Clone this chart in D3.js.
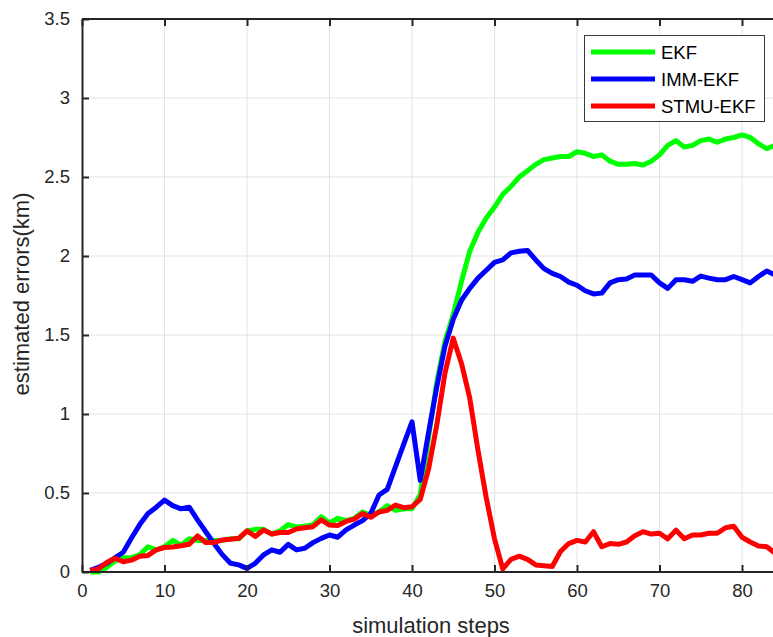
<!DOCTYPE html>
<html><head><meta charset="utf-8">
<script src="https://cdn.jsdelivr.net/npm/d3@7"></script>
<style>html,body{margin:0;padding:0;background:#fff;overflow:hidden}</style>
</head><body>
<svg id="c" width="773" height="637"></svg>
<script>
const steps = d3.range(1, 85);
const ekf = [0.00,0.00,0.03,0.07,0.09,0.09,0.11,0.16,0.14,0.16,0.20,0.17,0.21,0.20,0.20,0.20,0.20,0.21,0.21,0.26,
0.27,0.27,0.24,0.26,0.30,0.285,0.29,0.30,0.35,0.31,0.34,0.325,0.34,0.38,0.36,0.38,0.42,0.39,0.40,0.40,
0.49,0.85,1.20,1.46,1.63,1.84,2.03,2.15,2.24,2.31,2.39,2.44,2.50,2.54,2.58,2.61,2.62,2.63,2.63,2.66,
2.65,2.63,2.64,2.60,2.58,2.58,2.585,2.576,2.60,2.64,2.70,2.73,2.69,2.70,2.73,2.74,2.72,2.74,2.75,2.766,
2.75,2.71,2.68,2.70];
const imm = [0.01,0.03,0.055,0.09,0.125,0.215,0.30,0.37,0.41,0.455,0.42,0.40,0.41,0.33,0.255,0.18,0.11,0.055,0.045,0.023,
0.055,0.108,0.14,0.125,0.175,0.14,0.15,0.186,0.213,0.234,0.22,0.266,0.297,0.325,0.37,0.487,0.523,0.667,0.81,0.95,
0.58,0.88,1.17,1.43,1.60,1.72,1.795,1.86,1.91,1.96,1.975,2.02,2.03,2.035,1.975,1.92,1.89,1.87,1.835,1.815,
1.78,1.76,1.765,1.83,1.85,1.855,1.88,1.88,1.88,1.83,1.795,1.85,1.85,1.84,1.873,1.86,1.85,1.85,1.87,1.85,
1.83,1.87,1.905,1.88];
const stmu = [0.01,0.02,0.06,0.087,0.065,0.075,0.10,0.105,0.14,0.155,0.158,0.166,0.176,0.228,0.186,0.186,0.203,0.207,0.213,0.26,
0.225,0.266,0.24,0.25,0.25,0.272,0.28,0.287,0.33,0.297,0.294,0.32,0.335,0.37,0.346,0.38,0.39,0.424,0.407,0.413,
0.46,0.65,0.93,1.26,1.48,1.32,1.10,0.77,0.47,0.21,0.02,0.08,0.10,0.08,0.045,0.04,0.035,0.13,0.18,0.20,
0.19,0.255,0.16,0.18,0.175,0.19,0.23,0.255,0.24,0.245,0.21,0.265,0.21,0.234,0.234,0.245,0.245,0.28,0.29,0.22,
0.19,0.165,0.16,0.12];
const seriesNames = ["EKF","IMM-EKF","STMU-EKF"];
const seriesColors = ["#00ff00","#0000ff","#ff0000"];
const xTicks = [0,10,20,30,40,50,60,70,80];
const yTicks = [0,0.5,1,1.5,2,2.5,3,3.5];
const xLabel = "simulation steps";
const yLabel = "estimated errors(km)";

const svg = d3.select("#c");
const L = 82, T = 19, B = 572, R = 773;
const x = d3.scaleLinear().domain([0, 85]).range([L, L + 85*8.25]);
const y = d3.scaleLinear().domain([0, 3.5]).range([B, T]);
const font = "'Liberation Sans', Arial, sans-serif";
const axCol = "#262626";

svg.append("defs").append("clipPath").attr("id","clip")
  .append("rect").attr("x", L).attr("y", T - 10).attr("width", R - L).attr("height", B - T + 20);

// grid
const g = svg.append("g");
g.selectAll(".gx").data(xTicks.filter(d => d > 0)).join("line")
  .attr("x1", d => x(d)).attr("x2", d => x(d)).attr("y1", T).attr("y2", B)
  .attr("stroke", "#e3e3e3").attr("stroke-width", 1);
g.selectAll(".gy").data(yTicks.filter(d => d > 0 && d < 3.5)).join("line")
  .attr("x1", L).attr("x2", R).attr("y1", d => y(d)).attr("y2", d => y(d))
  .attr("stroke", "#e3e3e3").attr("stroke-width", 1);

// lines
const line = d3.line().x((d, i) => x(steps[i])).y(d => y(d));
const lg = svg.append("g").attr("clip-path", "url(#clip)");
[ekf, imm, stmu].forEach((s, k) => {
  lg.append("path").datum(s).attr("d", line).attr("fill", "none")
    .attr("stroke", seriesColors[k]).attr("stroke-width", 5)
    .attr("stroke-linejoin", "round").attr("stroke-linecap", "butt");
});

// axes
const xAxis = d3.axisBottom(x).tickValues(xTicks).tickSizeInner(-7).tickSizeOuter(0).tickPadding(12).tickFormat(d3.format("d"));
const gx = svg.append("g").attr("transform", `translate(0,${B})`).call(xAxis);
const xTop = d3.axisTop(x).tickValues(xTicks).tickSizeInner(-7).tickSizeOuter(0).tickFormat("");
const gt = svg.append("g").attr("transform", `translate(0,${T})`).call(xTop);
const yAxis = d3.axisLeft(y).tickValues(yTicks).tickSizeInner(-7).tickSizeOuter(0).tickPadding(12).tickFormat(d => d3.format("")(d));
const gy = svg.append("g").attr("transform", `translate(${L},0)`).call(yAxis);
[gx, gt, gy].forEach(a => {
  a.select(".domain").attr("stroke", axCol).attr("stroke-width", 2);
  a.selectAll(".tick line").attr("stroke", axCol).attr("stroke-width", 2);
  a.selectAll("text").attr("fill", axCol).style("font-family", font).style("font-size", "18.5px");
});
gt.select(".domain").attr("d", `M${L},0H${R+10}`);
gx.select(".domain").attr("d", `M${L},0H${R+10}`);

// axis labels
svg.append("text").attr("x", 431).attr("y", 633).attr("text-anchor", "middle")
  .attr("fill", axCol).style("font-family", font).style("font-size", "22px").text(xLabel);
svg.append("text").attr("transform", "translate(29,294) rotate(-90)").attr("text-anchor", "middle")
  .attr("fill", axCol).style("font-family", font).style("font-size", "22px").text(yLabel);

// legend
const leg = svg.append("g");
leg.append("rect").attr("x", 584.5).attr("y", 35.5).attr("width", 180).attr("height", 86)
  .attr("fill", "#fff").attr("stroke", "#3a3a3a").attr("stroke-width", 1);
seriesNames.forEach((n, k) => {
  const yy = 52 + k * 27;
  leg.append("line").attr("x1", 591).attr("x2", 655).attr("y1", yy).attr("y2", yy)
    .attr("stroke", seriesColors[k]).attr("stroke-width", 5);
  leg.append("text").attr("x", 661).attr("y", yy + 6.5).attr("fill", "#000")
    .style("font-family", font).style("font-size", "18.5px").text(n);
});
</script>
</body></html>
